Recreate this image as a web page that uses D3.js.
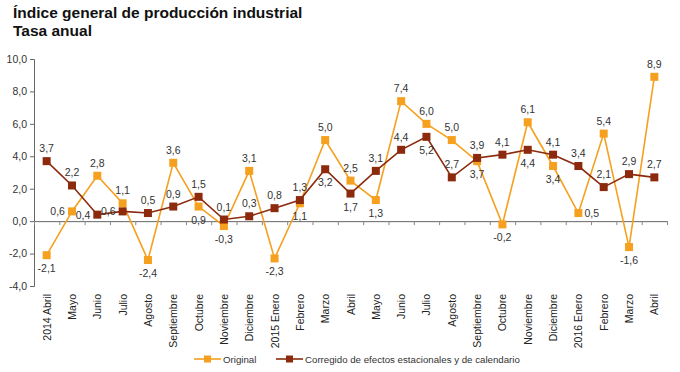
<!DOCTYPE html>
<html>
<head>
<meta charset="utf-8">
<script src="https://cdn.jsdelivr.net/npm/d3@7"></script>
<style>
  body { margin: 0; background: #fff; }
  svg { font-family: Arial, 'Liberation Sans', sans-serif; }
</style>
</head>
<body>
<div id="chart"></div>
<script>
const months = ['2014 Abril', 'Mayo', 'Junio', 'Julio', 'Agosto', 'Septiembre', 'Octubre', 'Noviembre', 'Diciembre',
  '2015 Enero', 'Febrero', 'Marzo', 'Abril', 'Mayo', 'Junio', 'Julio', 'Agosto', 'Septiembre', 'Octubre', 'Noviembre', 'Diciembre',
  '2016 Enero', 'Febrero', 'Marzo', 'Abril']
const original = [-2.1, 0.6, 2.8, 1.1, -2.4, 3.6, 0.9, -0.3, 3.1, -2.3, 1.1, 5.0, 2.5, 1.3, 7.4, 6.0, 5.0, 3.7, -0.2, 6.1, 3.4, 0.5, 5.4, -1.6, 8.9]
const corregido = [3.7, 2.2, 0.4, 0.6, 0.5, 0.9, 1.5, 0.1, 0.3, 0.8, 1.3, 3.2, 1.7, 3.1, 4.4, 5.2, 2.7, 3.9, 4.1, 4.4, 4.1, 3.4, 2.1, 2.9, 2.7]
// where each value label sits: a = above, b = below, l = left, r = right
const originalPlace = ['b', 'l', 'a', 'a', 'b', 'a', 'b', 'b', 'a', 'b', 'b', 'a', 'a', 'b', 'a', 'a', 'a', 'b', 'b', 'a', 'b', 'r', 'a', 'b', 'a']
const corregidoPlace = ['a', 'a', 'l', 'l', 'a', 'a', 'a', 'a', 'a', 'a', 'a', 'b', 'b', 'a', 'a', 'b', 'a', 'a', 'a', 'b', 'a', 'a', 'a', 'a', 'a']
const yTicks = [-4, -2, 0, 2, 4, 6, 8, 10]
const seriesNames = ['Original', 'Corregido de efectos estacionales y de calendario']

const width = 680
const height = 372
const margin = { top: 59, right: 13, bottom: 87, left: 34 }
const colOrange = '#F5A01E'
const colDark = '#8B2A0C'

const svg = d3.select('#chart').append('svg').attr('width', width).attr('height', height)

svg.append('text').attr('x', 13).attr('y', 18).style('font-size', '15.5px').style('font-weight', 'bold')
  .attr('fill', '#111').text('Índice general de producción industrial')
svg.append('text').attr('x', 13).attr('y', 36).style('font-size', '15.5px').style('font-weight', 'bold')
  .attr('fill', '#111').text('Tasa anual')

const fmt = (v) => v.toFixed(1).replace('.', ',')

const x = d3.scaleBand().domain(d3.range(months.length)).range([margin.left, width - margin.right])
const y = d3.scaleLinear().domain([-4, 10]).range([height - margin.bottom + 1, margin.top])
const cx = (i) => x(i) + x.bandwidth() / 2

// y axis
const yAxis = svg.append('g').attr('transform', `translate(${margin.left},0)`)
  .call(d3.axisLeft(y).tickValues(yTicks).tickSize(4).tickFormat(fmt))
yAxis.select('.domain').attr('stroke', '#666')
yAxis.selectAll('line').attr('stroke', '#666')
yAxis.selectAll('text').style('font-size', '10.5px').attr('fill', '#333').attr('x', -7)

// zero line with ticks at band edges
const xAxis = svg.append('g').attr('transform', `translate(0,${y(0)})`)
  .call(d3.axisBottom(d3.scaleLinear().domain([0, months.length]).range([margin.left, width - margin.right]))
    .tickValues(d3.range(months.length + 1)).tickSize(4).tickSizeOuter(0).tickFormat(''))
xAxis.select('.domain').attr('stroke', '#666')
xAxis.selectAll('line').attr('stroke', '#888')

// month labels
svg.append('g').selectAll('text').data(months).join('text')
  .attr('transform', (d, i) => `translate(${cx(i) + 4},${y(-4) + 8}) rotate(-90)`)
  .attr('text-anchor', 'end').style('font-size', '10.5px').attr('fill', '#222').text((d) => d)

function drawSeries(values, places, color) {
  const line = d3.line().x((d, i) => cx(i)).y((d) => y(d))
  svg.append('path').datum(values).attr('d', line).attr('fill', 'none').attr('stroke', color).attr('stroke-width', 1.6)
  svg.append('g').selectAll('rect').data(values).join('rect')
    .attr('x', (d, i) => cx(i) - 4).attr('y', (d) => y(d) - 4).attr('width', 8).attr('height', 8).attr('fill', color)
  svg.append('g').selectAll('text').data(values).join('text')
    .attr('x', (d, i) => places[i] === 'l' ? cx(i) - 7 : places[i] === 'r' ? cx(i) + 6 : cx(i))
    .attr('y', (d, i) => places[i] === 'a' ? y(d) - 9 : places[i] === 'b' ? y(d) + 17 : y(d) + 4)
    .attr('text-anchor', (d, i) => places[i] === 'l' ? 'end' : places[i] === 'r' ? 'start' : 'middle')
    .style('font-size', '10.5px').attr('fill', '#333').text((d) => fmt(d))
}
drawSeries(original, originalPlace, colOrange)
drawSeries(corregido, corregidoPlace, colDark)

// legend
const legend = svg.append('g').attr('transform', `translate(0,${height - 13})`)
const legX = [194, 276]
const legCol = [colOrange, colDark]
seriesNames.forEach((name, i) => {
  legend.append('line').attr('x1', legX[i]).attr('x2', legX[i] + 27).attr('y1', 0).attr('y2', 0)
    .attr('stroke', legCol[i]).attr('stroke-width', 1.6)
  legend.append('rect').attr('x', legX[i] + 10).attr('y', -3.5).attr('width', 7).attr('height', 7).attr('fill', legCol[i])
  legend.append('text').attr('x', legX[i] + 29).attr('y', 4).style('font-size', '9.7px').attr('fill', '#333').text(name)
})
</script>
</body>
</html>
